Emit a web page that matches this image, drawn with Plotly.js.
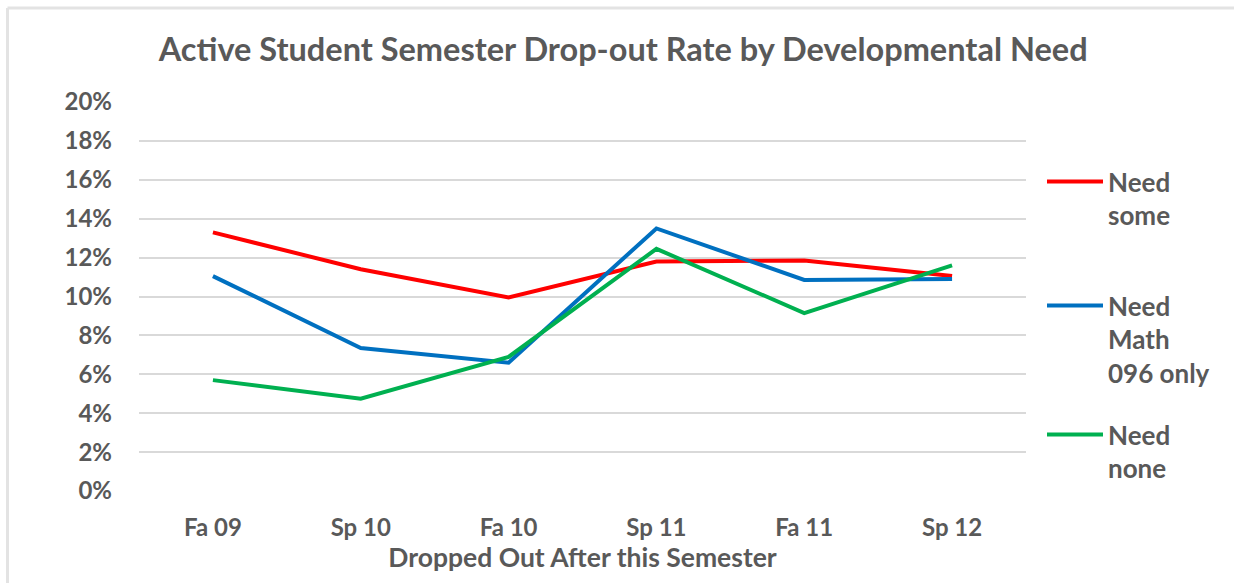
<!DOCTYPE html>
<html>
<head>
<meta charset="utf-8">
<script src="https://cdn.plot.ly/plotly-3.0.1.min.js"></script>
<style>html,body{margin:0;padding:0;background:#fff;}#chart{width:1234px;height:583px;}</style>
</head>
<body>
<div id="chart"></div>
<script>
var semesters = ["Fa 09", "Sp 10", "Fa 10", "Sp 11", "Fa 11", "Sp 12"];
var needSome = [0.133, 0.114, 0.0995, 0.118, 0.1185, 0.1105];
var needMath096 = [0.1105, 0.0735, 0.066, 0.135, 0.1085, 0.109];
var needNone = [0.057, 0.0475, 0.069, 0.1245, 0.0915, 0.116];
var seriesNames = ["Need<br>some", "Need<br>Math<br>096 only", "Need<br>none"];
var yTicks = [0, 0.02, 0.04, 0.06, 0.08, 0.10, 0.12, 0.14, 0.16, 0.18, 0.20];

var W = 1234, H = 583;
var M = {l: 139, r: 208, t: 102, b: 92};
var pw = W - M.l - M.r, ph = H - M.t - M.b;
function px(x) { return (x - M.l) / pw; }
function py(y) { return (H - M.b - y) / ph; }

var FONT = "Lato, 'Open Sans', sans-serif";
var GREY = "#595959";
var colors = ["#FF0000", "#0070C0", "#00B050"];
var series = [needSome, needMath096, needNone];
var legendNames = ["legend", "legend2", "legend3"];

var traces = series.map(function (vals, i) {
  return {
    type: "scatter", mode: "lines", x: semesters, y: vals, name: seriesNames[i],
    line: {color: colors[i], width: 4}, legend: legendNames[i], hoverinfo: "x+y"
  };
});

var legendTopPx = [158, 282, 411];
function legendObj(i) {
  return {
    x: px(1042), y: py(legendTopPx[i]), xanchor: "left", yanchor: "top",
    bgcolor: "rgba(0,0,0,0)", borderwidth: 0, valign: "top", itemwidth: 56,
    font: {family: FONT, size: 26, color: GREY, weight: 700}
  };
}

var layout = {
  width: W, height: H, margin: M,
  paper_bgcolor: "#fff", plot_bgcolor: "#fff",
  showlegend: true,
  title: {text: "Active Student Semester Drop-out Rate by Developmental Need",
    font: {family: FONT, size: 32.5, color: GREY, weight: 700},
    x: 0.505, xanchor: "center", y: 1 - 50 / H, yanchor: "middle"},
  xaxis: {
    type: "category", range: [-0.5, 5.5], showgrid: false, zeroline: false, showline: false,
    ticks: "", ticklabelstandoff: 20,
    tickfont: {family: FONT, size: 24, color: GREY, weight: 700},
    title: {text: "Dropped Out After this Semester", standoff: 4,
      font: {family: FONT, size: 26.5, color: GREY, weight: 700}},
    fixedrange: true
  },
  yaxis: {
    range: [0, 0.2], tickvals: yTicks, tickformat: ".0%", showgrid: true,
    gridcolor: "#D9D9D9", gridwidth: 2, zeroline: false, showline: false, ticks: "",
    ticklabelstandoff: 26,
    tickfont: {family: FONT, size: 24, color: GREY, weight: 700}, fixedrange: true
  },
  legend: legendObj(0), legend2: legendObj(1), legend3: legendObj(2),
  shapes: [
    {type: "line", xref: "paper", yref: "paper", x0: px(7.5), x1: px(1234), y0: py(8), y1: py(8),
      line: {color: "#E3E3E3", width: 3}},
    {type: "line", xref: "paper", yref: "paper", x0: px(7.5), x1: px(7.5), y0: py(8), y1: py(583),
      line: {color: "#E3E3E3", width: 3}}
  ]
};

Plotly.newPlot("chart", traces, layout, {displayModeBar: false});
</script>
</body>
</html>
